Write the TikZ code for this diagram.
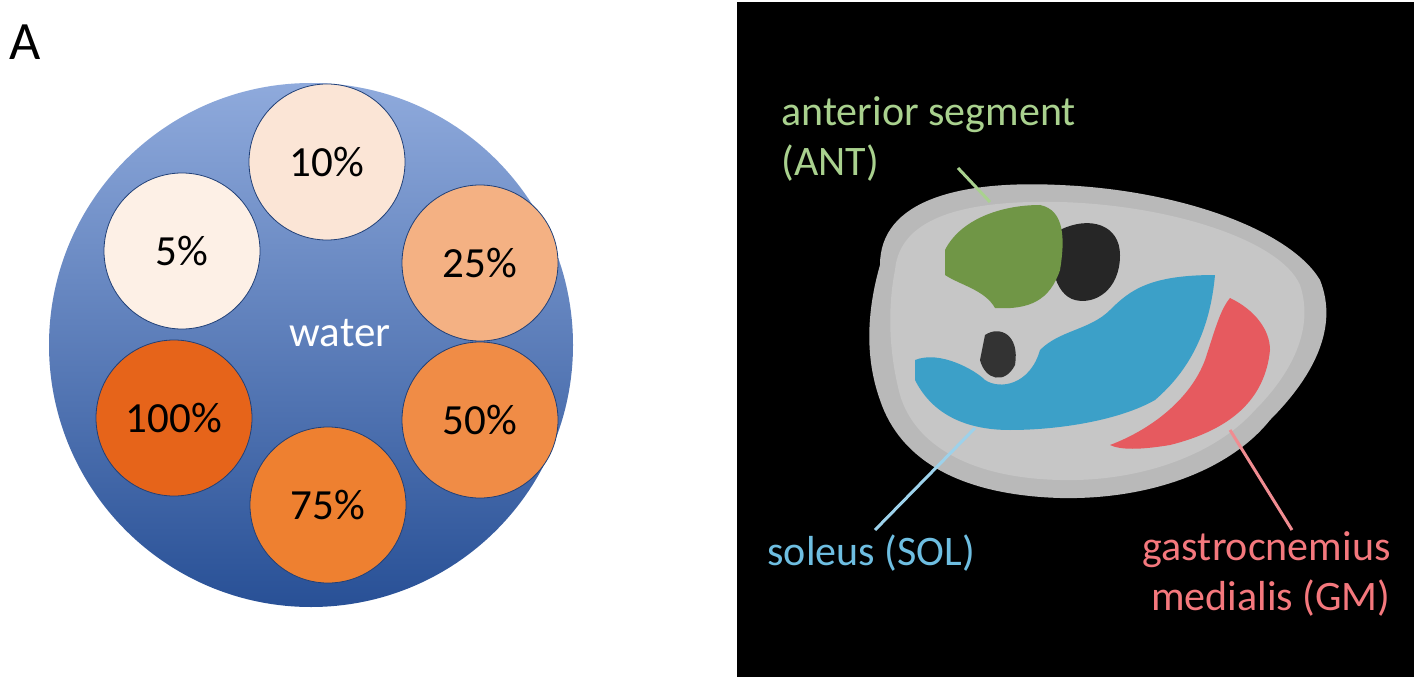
\documentclass[tikz,border=0pt]{standalone}
\usepackage{fontspec}
\setmainfont{Carlito}
\definecolor{wtop}{RGB}{143,170,220}
\definecolor{wbot}{RGB}{40,80,150}
\definecolor{c10}{RGB}{251,229,214}
\definecolor{c5}{RGB}{253,240,230}
\definecolor{c25}{RGB}{244,177,131}
\definecolor{c100}{RGB}{230,100,26}
\definecolor{c50}{RGB}{240,140,70}
\definecolor{c75}{RGB}{238,128,48}
\definecolor{antc}{RGB}{112,150,70}
\definecolor{solc}{RGB}{60,160,200}
\definecolor{gmc}{RGB}{230,90,95}
\definecolor{antt}{RGB}{169,209,142}
\definecolor{solt}{RGB}{110,190,225}
\definecolor{soll}{RGB}{157,210,235}
\definecolor{gmt}{RGB}{244,120,125}
\definecolor{gml}{RGB}{240,140,145}
\begin{document}
\begin{tikzpicture}[x=1pt,y=-1pt,
  vial/.style={circle,draw=wbot!80!black,line width=0.8pt,minimum size=156pt,inner sep=0pt,font=\fontsize{43}{48}\selectfont},
  lbl/.style={font=\fontsize{42}{50}\selectfont,anchor=west,align=left}]
\useasboundingbox (0,0) rectangle (1416,679);
\node[font=\fontsize{54}{60}\selectfont] (A) at (25,42) {A};
\shade[top color=wtop,bottom color=wbot] (311,345) circle (262);
\node[text=white,font=\fontsize{43}{48}\selectfont] (water) at (340,333) {water};
\node[vial,fill=c10] (p10) at (327,162) {10\%};
\node[vial,fill=c5] (p5) at (182,251) {5\%};
\node[vial,fill=c25] (p25) at (480,263) {25\%};
\node[vial,fill=c100] (p100) at (174,418) {100\%};
\node[vial,fill=c50] (p50) at (480,420) {50\%};
\node[vial,fill=c75] (p75) at (328,505) {75\%};
\fill[black] (737,2) rectangle (1414,677);
\node[font=\fontsize{54}{60}\selectfont] (B) at (775,42) {B};
\fill[gray!55] (880,265) .. controls (880,200) and (960,180) .. (1060,185) .. controls (1180,190) and (1290,230) .. (1320,280) .. controls (1340,330) and (1310,380) .. (1270,420) .. controls (1230,470) and (1150,500) .. (1060,498) .. controls (960,495) and (900,460) .. (880,400) .. controls (862,350) and (870,300) .. (880,265) -- cycle;
\fill[gray!45] (895,270) .. controls (900,215) and (970,200) .. (1060,202) .. controls (1170,205) and (1280,240) .. (1300,285) .. controls (1315,330) and (1290,375) .. (1255,410) .. controls (1215,455) and (1140,482) .. (1060,480) .. controls (970,478) and (915,445) .. (900,395) .. controls (888,350) and (888,305) .. (895,270) -- cycle;
\fill[black!85] (1060,230) .. controls (1090,215) and (1120,225) .. (1120,255) .. controls (1120,290) and (1095,305) .. (1075,300) .. controls (1055,295) and (1045,260) .. (1060,230) -- cycle;
\fill[black!80] (985,335) .. controls (1000,325) and (1020,335) .. (1015,365) .. controls (1005,385) and (985,380) .. (980,360) -- cycle;
\fill[antc] (945,250) .. controls (960,220) and (1000,205) .. (1040,205) .. controls (1065,210) and (1065,240) .. (1060,270) .. controls (1050,300) and (1030,310) .. (995,308) .. controls (985,290) and (960,285) .. (945,275) -- cycle;
\fill[solc] (915,360) .. controls (940,350) and (975,370) .. (985,380) .. controls (1000,390) and (1030,385) .. (1040,350) .. controls (1060,330) and (1090,330) .. (1110,310) .. controls (1130,290) and (1150,275) .. (1215,275) .. controls (1210,330) and (1190,370) .. (1155,400) .. controls (1120,420) and (1060,430) .. (1010,430) .. controls (960,430) and (930,410) .. (915,380) -- cycle;
\fill[gmc] (1230,298) .. controls (1255,310) and (1270,330) .. (1270,350) .. controls (1265,400) and (1230,430) .. (1170,445) .. controls (1140,450) and (1120,450) .. (1110,445) .. controls (1150,430) and (1190,400) .. (1205,360) .. controls (1215,330) and (1220,310) .. (1230,298) -- cycle;
\node[lbl,text=antt] (antl) at (778,139) {anterior segment\\(ANT)};
\coordinate (antp) at (990,202);
\draw[line width=3pt,antt] (958,168) -- (antp);
\node[lbl,text=solt] (soll) at (764,553) {soleus (SOL)};
\coordinate (solp) at (975,428);
\draw[line width=3pt,soll] (875,530) -- (solp);
\node[lbl,anchor=east,align=right,text=gmt] (gmlab) at (1394,574) {gastrocnemius\\medialis (GM)};
\coordinate (gmp) at (1230,430);
\draw[line width=3pt,gml] (1292,530) -- (gmp);
\end{tikzpicture}
\end{document}
